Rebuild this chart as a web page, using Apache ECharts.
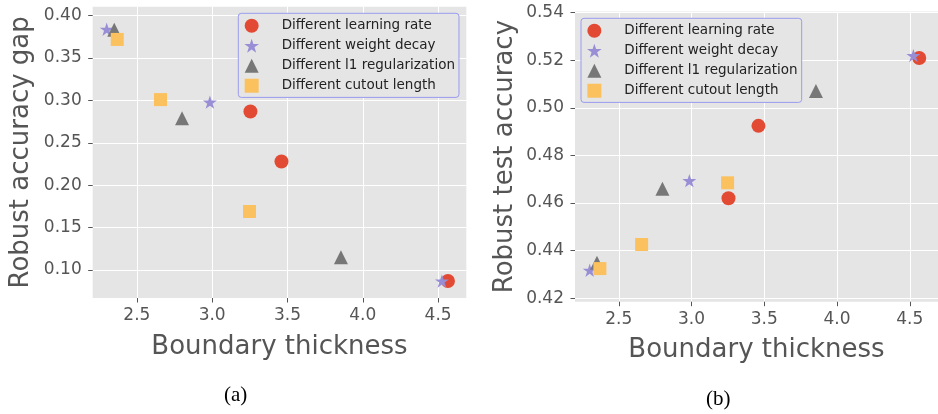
<!DOCTYPE html>
<html>
<head>
<meta charset="utf-8">
<script src="https://cdn.jsdelivr.net/npm/echarts@6/dist/echarts.min.js"></script>
<style>
  html, body { margin: 0; padding: 0; background: #ffffff; overflow: hidden; }
  #chart { width: 938px; height: 414px; }
</style>
</head>
<body>
<div id="chart"></div>
<script>
// Boundary thickness (x) shared by both panels, one array per hyper-parameter sweep
const lrThickness = [3.254, 3.46, 4.565];
const wdThickness = [2.30, 2.985, 4.525];
const l1Thickness = [2.35, 2.80, 3.855];
const cutoutThickness = [2.37, 2.657, 3.248];

// Panel (a): robust accuracy gap
const lrGap = [0.287, 0.228, 0.087];
const wdGap = [0.384, 0.298, 0.087];
const l1Gap = [0.3835, 0.279, 0.115];
const cutoutGap = [0.372, 0.301, 0.169];

// Panel (b): robust test accuracy
const lrAcc = [0.462, 0.4924, 0.5209];
const wdAcc = [0.4318, 0.4694, 0.5219];
const l1Acc = [0.435, 0.466, 0.507];
const cutoutAcc = [0.4325, 0.4426, 0.4685];

const seriesNames = [
  'Different learning rate',
  'Different weight decay',
  'Different l1 regularization',
  'Different cutout length'
];

// Tick labels
const xTicks = [2.5, 3.0, 3.5, 4.0, 4.5];
const gapTicks = [0.10, 0.15, 0.20, 0.25, 0.30, 0.35, 0.40];
const accTicks = [0.42, 0.44, 0.46, 0.48, 0.50, 0.52, 0.54];

// Five-pointed star marker
function starPath() {
  const pts = [];
  for (let i = 0; i < 10; i++) {
    const r = i % 2 === 0 ? 1 : 0.382;
    const a = -Math.PI / 2 + i * Math.PI / 5;
    pts.push((r * Math.cos(a)).toFixed(4) + ' ' + (r * Math.sin(a)).toFixed(4));
  }
  return 'path://M' + pts.join(' L') + ' Z';
}

// Triangle and square as paths so legend icons keep their proportions
const trianglePath = 'path://M0 -1 L1 1 L-1 1 Z';
const squarePath = 'path://M-1 -1 L1 -1 L1 1 L-1 1 Z';

const FONT = 'DejaVu Sans';
const TEXT = '#555555';
const markers = [
  { symbol: 'circle', size: 14, color: '#E24A33' },
  { symbol: starPath(), size: 14, color: '#988ED5' },
  { symbol: trianglePath, size: 14, color: '#777777' },
  { symbol: squarePath, size: 13, color: '#FBC15E' }
];

const xs = [lrThickness, wdThickness, l1Thickness, cutoutThickness];
const gaps = [lrGap, wdGap, l1Gap, cutoutGap];
const accs = [lrAcc, wdAcc, l1Acc, cutoutAcc];

function pairs(x, y) { return x.map((v, i) => [v, y[i]]); }

function xAxis(gridIndex, min, max) {
  return {
    type: 'value', gridIndex, min, max,
    name: 'Boundary thickness', nameLocation: 'middle', nameGap: 36,
    nameTextStyle: { fontFamily: FONT, fontSize: 26, color: TEXT },
    axisLine: { show: false },
    axisTick: { show: true, length: 4.5, customValues: xTicks, lineStyle: { color: TEXT, width: 1 } },
    axisLabel: { customValues: xTicks, margin: 9, fontFamily: FONT, fontSize: 17, color: TEXT,
                 formatter: v => v.toFixed(1) },
    splitLine: { show: true, lineStyle: { color: '#ffffff', width: 1 } }
  };
}

function yAxis(gridIndex, min, max, ticks, name, gap) {
  return {
    type: 'value', gridIndex, min, max,
    name, nameLocation: 'middle', nameGap: gap, nameRotate: 90,
    nameTextStyle: { fontFamily: FONT, fontSize: 26, color: TEXT },
    axisLine: { show: false },
    axisTick: { show: true, length: 4.5, customValues: ticks, lineStyle: { color: TEXT, width: 1 } },
    axisLabel: { customValues: ticks, margin: 11, fontFamily: FONT, fontSize: 17, color: TEXT,
                 formatter: v => v.toFixed(2) },
    splitLine: { show: true, lineStyle: { color: '#ffffff', width: 1 } }
  };
}

function legend(left, top) {
  return {
    data: seriesNames, orient: 'vertical', left, top,
    itemWidth: 38, itemHeight: 14, itemGap: 0,
    padding: [2.4, 4, 1.7, 6],
    backgroundColor: '#E5E5E5', borderColor: '#9a9af0', borderWidth: 1, borderRadius: 3,
    textStyle: { fontFamily: FONT, fontSize: 13.5, color: '#222222', lineHeight: 20, padding: [0, 0, 0, 6] },
    selectedMode: false
  };
}

const series = [];
[0, 1].forEach(g => {
  seriesNames.forEach((name, k) => {
    series.push({
      type: 'scatter', name, xAxisIndex: g, yAxisIndex: g,
      symbol: markers[k].symbol, symbolSize: markers[k].size, symbolKeepAspect: true,
      itemStyle: { color: markers[k].color, opacity: 1 },
      emphasis: { disabled: true },
      data: pairs(xs[k], g === 0 ? gaps[k] : accs[k])
    });
  });
});

const chart = echarts.init(document.getElementById('chart'), null, { renderer: 'canvas' });
chart.setOption({
  animation: false,
  backgroundColor: '#ffffff',
  grid: [
    { left: 92.7, top: 6.7, width: 373.6, height: 291.3, show: true, backgroundColor: '#E5E5E5', borderWidth: 0 },
    { left: 575, top: 11.5, width: 373.4, height: 290.2, show: true, backgroundColor: '#E5E5E5', borderWidth: 0 }
  ],
  xAxis: [xAxis(0, 2.207, 4.687), xAxis(1, 2.199, 4.694)],
  yAxis: [
    yAxis(0, 0.067, 0.4106, gapTicks, 'Robust accuracy gap', 58),
    yAxis(1, 0.4186, 0.5404, accTicks, 'Robust test accuracy', 57)
  ],
  legend: [legend(238.3, 13.3), legend(581, 18.3)],
  series,
  graphic: [
    { type: 'text', left: 224, top: 385, style: { text: '(a)', font: '21px "Liberation Serif"', fill: '#000000' } },
    { type: 'text', left: 706, top: 389, style: { text: '(b)', font: '21px "Liberation Serif"', fill: '#000000' } }
  ]
});
</script>
</body>
</html>
